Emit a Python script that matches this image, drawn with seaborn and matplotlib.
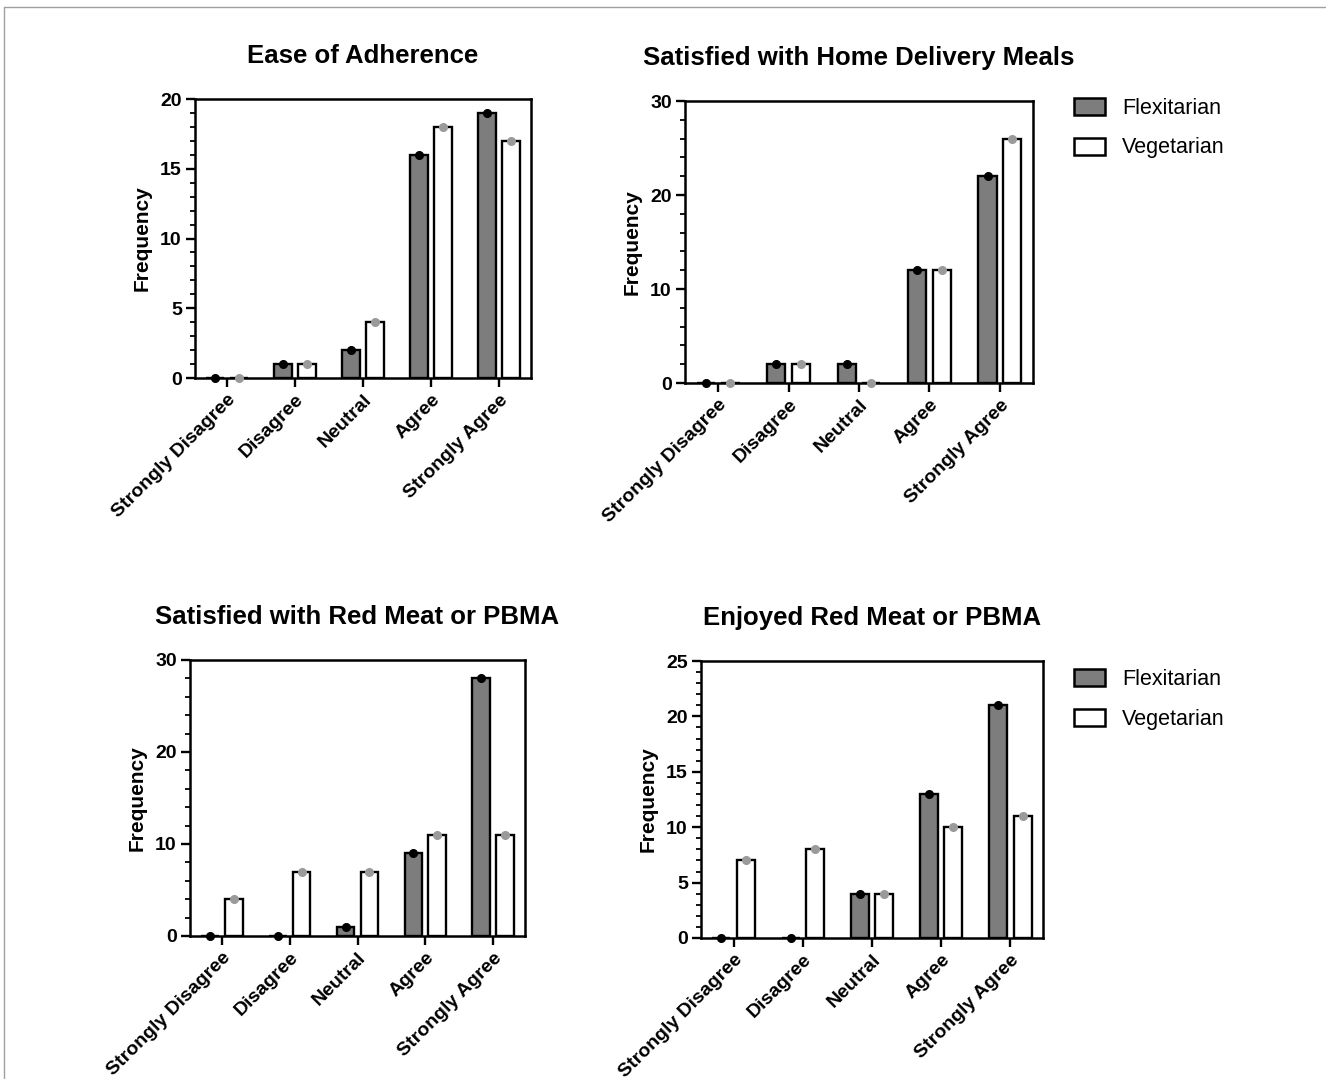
import matplotlib
matplotlib.use("Agg")
import matplotlib.pyplot as plt
from matplotlib.lines import Line2D
from matplotlib.ticker import MultipleLocator
import pandas as pd
import seaborn as sns

# survey answers (x axis)
responses = ["Strongly Disagree", "Disagree", "Neutral", "Agree", "Strongly Agree"]
groups = ["Flexitarian", "Vegetarian"]

# frequencies
adherence_flex = [0, 1, 2, 16, 19]
adherence_veg = [0, 1, 4, 18, 17]
delivery_flex = [0, 2, 2, 12, 22]
delivery_veg = [0, 2, 0, 12, 26]
satisfied_meat_flex = [0, 0, 1, 9, 28]
satisfied_meat_veg = [4, 7, 7, 11, 11]
enjoyed_meat_flex = [0, 0, 4, 13, 21]
enjoyed_meat_veg = [7, 8, 4, 10, 11]

sns.set_style("ticks", {"axes.edgecolor": "black", "axes.labelcolor": "black",
                        "text.color": "black", "xtick.color": "black",
                        "ytick.color": "black"})
plt.rcParams["font.family"] = ["Liberation Sans", "DejaVu Sans"]

W, H = 1326, 1079
fig = plt.figure(figsize=(W / 100, H / 100), dpi=100)

# thin grey border seen on top and left of the original image
fig.add_artist(Line2D([4 / W, 1], [1 - 7 / H, 1 - 7 / H], color="#a0a0a0", lw=1))
fig.add_artist(Line2D([4 / W, 4 / W], [0, 1 - 7 / H], color="#a0a0a0", lw=1))

palette = {"Flexitarian": "#7d7d7d", "Vegetarian": "white"}
dot_colors = {"Flexitarian": "black", "Vegetarian": "#9a9a9a"}

panels = [
    # title, flex, veg, ymax, major, minor, (left, right, top, bottom) px, legend y
    ("Ease of Adherence", adherence_flex, adherence_veg, 20, 5, 1, (195, 531, 99, 378), None),
    ("Satisfied with Home Delivery Meals", delivery_flex, delivery_veg, 30, 10, 2, (685, 1033, 101, 383), 1.01),
    ("Satisfied with Red Meat or PBMA", satisfied_meat_flex, satisfied_meat_veg, 30, 10, 2, (190, 525, 660, 936), None),
    ("Enjoyed Red Meat or PBMA", enjoyed_meat_flex, enjoyed_meat_veg, 25, 5, 1, (701, 1043, 661, 938), 0.97),
]

for title, flex, veg, ymax, major, minor, (l, r, t, b), legend_y in panels:
    ax = fig.add_axes([l / W, 1 - b / H, (r - l) / W, (b - t) / H])
    df = pd.DataFrame({
        "Response": responses * 2,
        "Diet": [groups[0]] * len(responses) + [groups[1]] * len(responses),
        "Frequency": flex + veg,
    })
    sns.barplot(data=df, x="Response", y="Frequency", hue="Diet", order=responses,
                hue_order=groups, palette=palette, saturation=1, width=0.7, gap=0.26,
                edgecolor="black", linewidth=1.7, errorbar=None, ax=ax,
                legend=legend_y is not None)

    # dot on top of every bar
    for grp, cont in zip(groups, ax.containers):
        for bar in cont:
            ax.plot(bar.get_x() + bar.get_width() / 2, bar.get_height(), "o",
                    ms=5.5, color=dot_colors[grp], clip_on=False, zorder=5)

    ax.set_xlim(-0.47, 4.47)
    ax.set_ylim(0, ymax)
    ax.yaxis.set_major_locator(MultipleLocator(major))
    ax.yaxis.set_minor_locator(MultipleLocator(minor))
    for side in ax.spines.values():
        side.set_visible(True)
        side.set_linewidth(1.8)
        side.set_color("black")
    ax.tick_params(axis="both", which="major", direction="out", length=6.5, width=1.7,
                   color="black", labelsize=14, pad=3)
    ax.tick_params(axis="y", which="minor", direction="out", length=3.5, width=1.3,
                   color="black", left=True)
    ax.tick_params(axis="y", which="major", left=True)
    ax.tick_params(axis="x", which="major", bottom=True)
    plt.setp(ax.get_xticklabels(), rotation=45, ha="right", rotation_mode="anchor",
             fontweight="bold")
    plt.setp(ax.get_yticklabels(), fontweight="bold")
    ax.set_xlabel("")
    ax.set_ylabel("Frequency", fontsize=15, fontweight="bold", labelpad=6)
    ax.set_title(title, fontsize=18.5, fontweight="bold", pad=26)

    if legend_y is not None:
        x_anchor = (1074 - l) / (r - l)
        sns.move_legend(ax, loc="upper left", bbox_to_anchor=(x_anchor, legend_y),
                        frameon=False, title=None, fontsize=15.5, borderpad=0,
                        borderaxespad=0, handlelength=1.43, handleheight=0.84,
                        handletextpad=0.8, labelspacing=0.85)
        for h in ax.get_legend().legend_handles:
            h.set_edgecolor("black")
            h.set_linewidth(1.8)

fig.savefig("out.png", dpi=100)
